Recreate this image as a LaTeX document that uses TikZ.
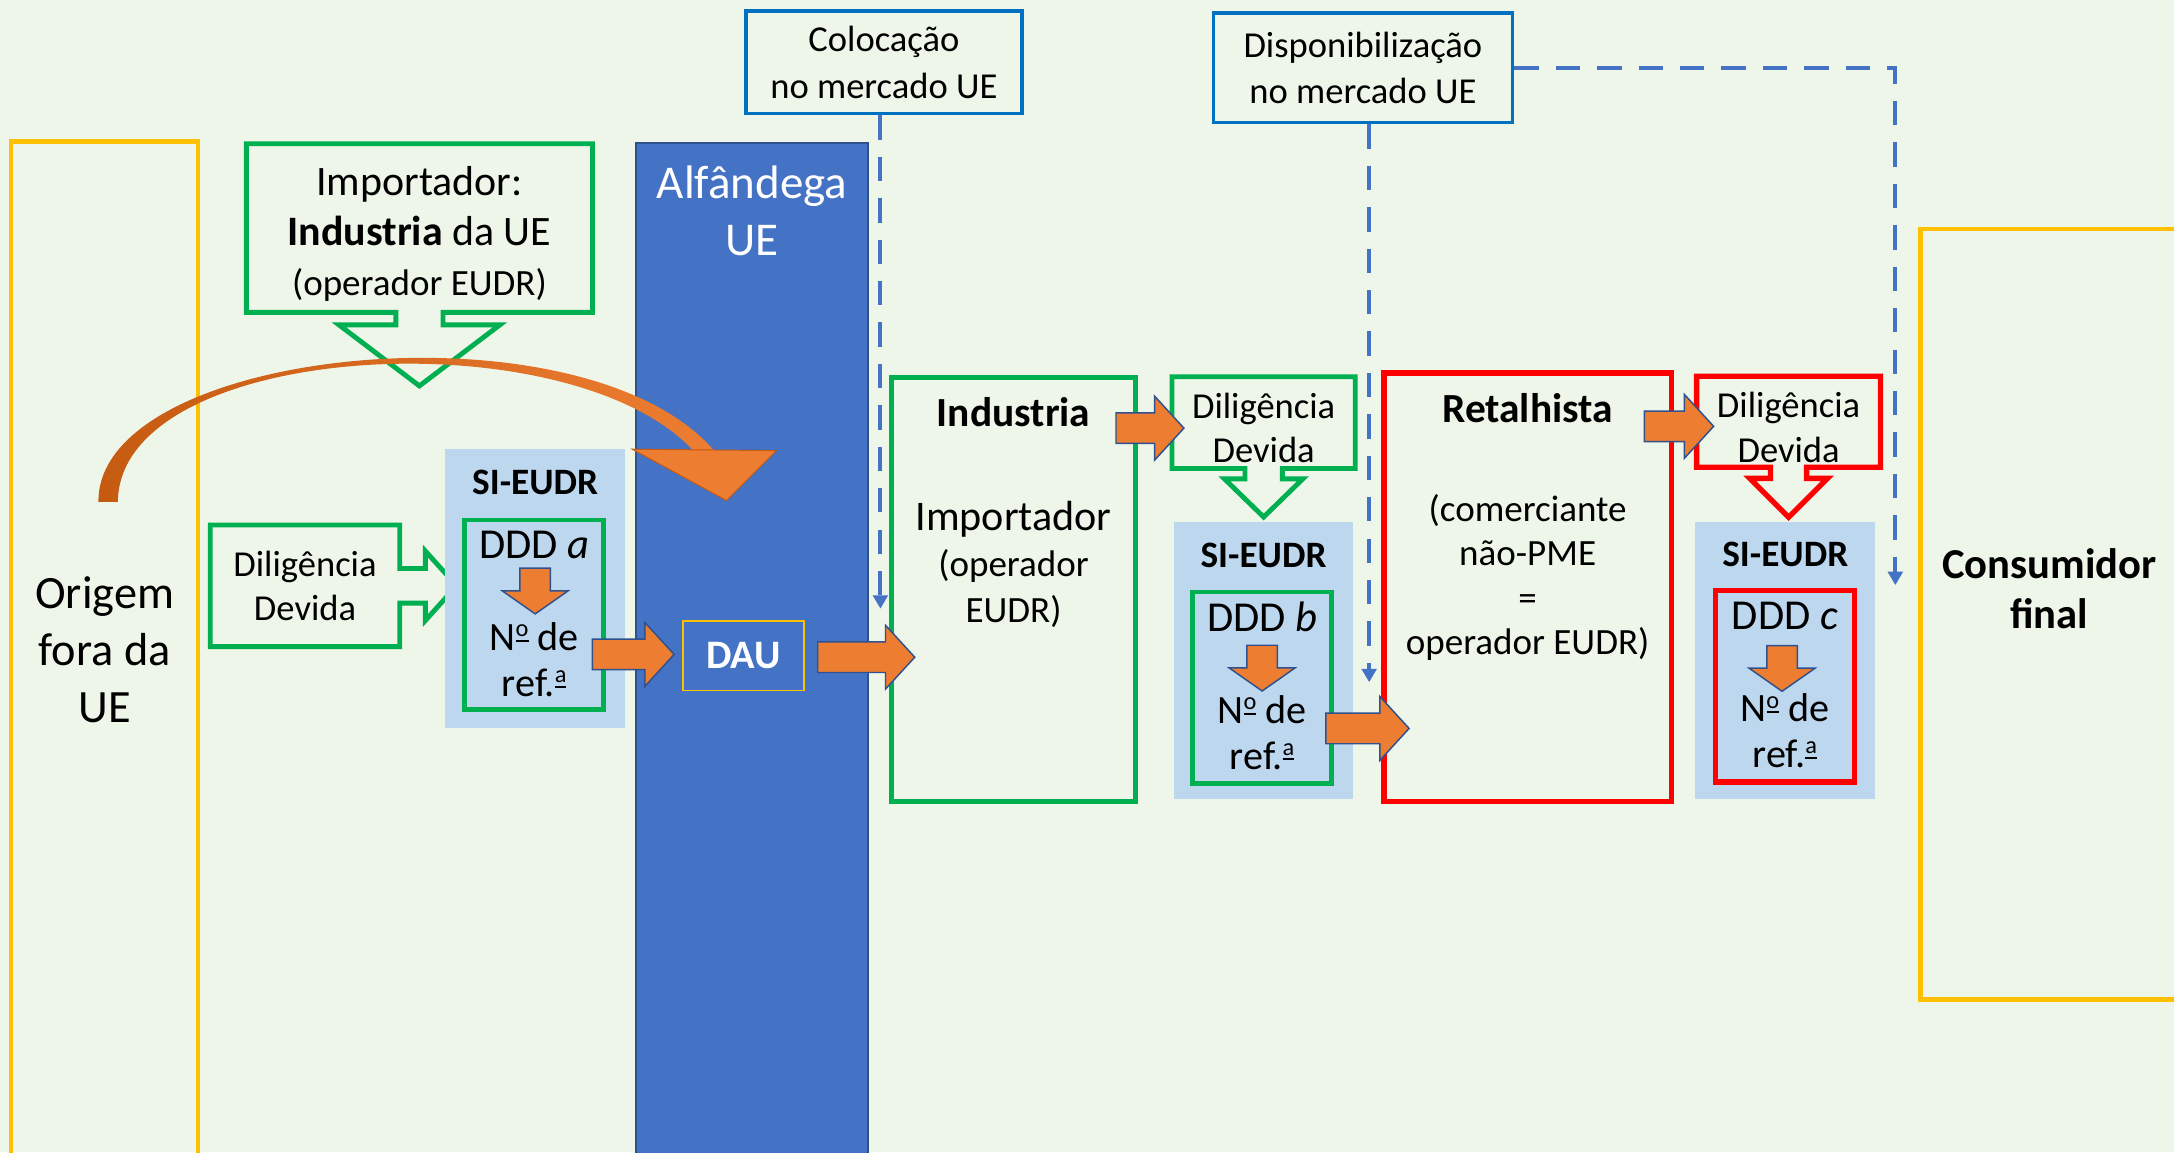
\documentclass[tikz,border=0pt]{standalone}
\usepackage{fontspec}
\setmainfont{Carlito}
\usepackage{xcolor}
\usepackage{tikz}
\usetikzlibrary{shapes.arrows, arrows.meta, positioning, calc}

\definecolor{bgc}{RGB}{238,245,233}
\definecolor{eugreen}{RGB}{0,176,80}
\definecolor{eured}{RGB}{255,0,0}
\definecolor{euyellow}{RGB}{255,192,0}
\definecolor{boxblue}{RGB}{0,112,192}
\definecolor{dashblue}{RGB}{68,114,196}
\definecolor{darkblue}{RGB}{47,82,143}
\definecolor{siblue}{RGB}{189,215,238}
\definecolor{arrorange}{RGB}{237,125,49}
\definecolor{darkorange}{RGB}{197,90,17}

% underlined ordinal indicators, as printed in the slide
\newcommand{\ordmasc}{\raisebox{5.6pt}{\fontsize{10}{10}\selectfont o}\llap{\rule[3.6pt]{5pt}{0.8pt}}}
\newcommand{\ordfem}{\raisebox{5.6pt}{\fontsize{10}{10}\selectfont a}\llap{\rule[3.6pt]{4.8pt}{0.8pt}}}

\begin{document}
\begin{tikzpicture}[x=0.02cm, y=-0.02cm, >={Triangle[width=6pt,length=5.5pt]}]
        % Define styles
        \tikzstyle{regionbox} = [rectangle, draw=euyellow, line width=1.8pt, inner sep=0pt, align=center, font=\fontsize{19}{23.3}\selectfont]
        \tikzstyle{mktbox} = [rectangle, draw=boxblue, line width=1.4pt, inner sep=0pt, align=center, font=\fontsize{15}{19}\selectfont]
        \tikzstyle{opbox} = [rectangle, draw=eugreen, line width=2pt, inner sep=0pt]
        \tikzstyle{retbox} = [rectangle, draw=eured, line width=2.2pt, inner sep=0pt]
        \tikzstyle{callout} = [rectangle, inner sep=0pt, align=center, font=\fontsize{15}{18.2}\selectfont]
        \tikzstyle{callgreen} = [draw=eugreen, line width=2pt, line join=miter]
        \tikzstyle{callred} = [draw=eured, line width=2.2pt, line join=miter]
        \tikzstyle{sipanel} = [rectangle, fill=siblue, inner sep=0pt]
        \tikzstyle{silabel} = [inner sep=0pt, font=\bfseries\fontsize{15.3}{18}\selectfont]
        \tikzstyle{dddlabel} = [inner sep=0pt, font=\fontsize{17.5}{20}\selectfont]
        \tikzstyle{reflabel} = [inner sep=0pt, align=center, font=\fontsize{16.5}{18.8}\selectfont]
        \tikzstyle{blockarrow} = [single arrow, fill=arrorange, draw=darkblue, line width=0.6pt, inner xsep=0pt, inner ysep=0.21cm, single arrow head extend=0.24cm, single arrow tip angle=95]
        \tikzstyle{smallarrow} = [blockarrow, rotate=-90, single arrow head extend=0.255cm, single arrow tip angle=110, minimum height=0.66cm, anchor=tail]
        \tikzstyle{dashconn} = [->, draw=dashblue, line width=1.6pt, dash pattern=on 10pt off 7pt]

        \useasboundingbox (0,0) rectangle (1568,831);
        \clip (0,0) rectangle (1568,831);
        \fill[bgc] (0,0) rectangle (1568,831);

        % Origin and customs
        \node (orig) [regionbox, minimum width=2.7cm, minimum height=14.66cm] at (75.5,468.5) {Origem\\fora da\\UE};
        \node (alf) [rectangle, fill=dashblue, draw=darkblue, line width=0.8pt, minimum width=3.34cm, minimum height=14.84cm] at (542.5,474) {};
        \node (alflbl) [inner sep=0pt, align=center, text=white, font=\fontsize{19.3}{23.3}\selectfont] at ($(alf.north)+(0,49.5)$) {Alfândega\\UE};

        % Importer callout
        \node (imp) [callout, minimum width=4.98cm, minimum height=2.42cm] at (302.5,164.5) {};
        \draw[callgreen] (imp.south west) -- ($(imp.south)+(-17,0)$) -- ++(0,9) -- ++(-41,0) -- ($(imp.south)+(0,53)$) -- ($(imp.south)+(58,9)$) -- ++(-41,0) -- ++(0,-9) -- (imp.south east) -- (imp.north east) -- (imp.north west) -- cycle;
        \node (imptxt) [callout, font=\fontsize{17.2}{20.5}\selectfont] at ($(imp.center)+(0,4.5)$) {Importador:\\\textbf{Industria} da UE\\{\fontsize{15.2}{20.5}\selectfont(operador EUDR)}};

        % Curved arrow into customs
        \coordinate (cstart) at (78,362);
        \coordinate (cend) at (524,361);
        \shade[left color=darkorange, right color=arrorange] ($(cstart)+(-7,0)$) .. controls (70,250) and (420,215) .. (515,325) -- (500,325) .. controls (410,228) and (86,246) .. ($(cstart)+(7,0)$) -- cycle;
        \filldraw[fill=arrorange, draw=darkorange, line width=0.4pt] (456,324) -- (560,325) -- (cend) -- cycle;

        % Market labels
        \node (col) [mktbox, minimum width=3.98cm, minimum height=1.48cm] at (637.5,45) {Colocação\\no mercado UE};
        \node (disp) [mktbox, minimum width=4.32cm, minimum height=1.58cm] at (983,49) {Disponibilização\\no mercado UE};

        % Due diligence a
        \node (dila) [callout, minimum width=2.72cm, minimum height=1.74cm] at (220,422.5) {Diligência\\Devida};
        \draw[callgreen] (dila.north west) -- (dila.north east) -- ($(dila.east)+(0,-12.5)$) -- ++(18.5,0) -- ++(0,-12.5) -- ($(dila.east)+(41,0)$) -- ($(dila.east)+(18.5,25)$) -- ++(0,-12.5) -- ++(-18.5,0) -- (dila.south east) -- (dila.south west) -- cycle;
        \node (sia) [sipanel, minimum width=2.6cm, minimum height=4.02cm] at (386,424.5) {};
        \node (sialbl) [silabel] at ($(sia.north)+(0,24)$) {SI-EUDR};
        \node (ddda) [opbox, minimum width=2.01cm, minimum height=2.74cm] at (385.3,443.5) {};
        \node (dddalbl) [dddlabel] at ($(ddda.north)+(0,20)$) {DDD \textit{a}};
        \node (dddaarr) [smallarrow] at ($(ddda.north)+(0.7,36)$) {};
        \node (dddaref) [reflabel] at ($(ddda.north)+(0,102.5)$) {N\ordmasc{} de\\ref.\ordfem};

        % DAU
        \node (dau) [rectangle, draw=euyellow, line width=0.7pt, minimum width=1.75cm, minimum height=1.0cm, text=white, font=\bfseries\fontsize{16.6}{20}\selectfont] at (536.3,473) {DAU};
        \node (a2dau) [blockarrow, anchor=tip, minimum height=1.18cm] at ($(dau.west)+(-5,-1)$) {};

        % Industria
        \node (ind) [opbox, minimum width=3.52cm, minimum height=6.12cm] at (731,425) {};
        \node (indlbl) [inner sep=0pt, font=\bfseries\fontsize{17}{20}\selectfont] at ($(ind.north)+(0,27)$) {Industria};
        \node (indtxt) [inner sep=0pt, align=center, font=\fontsize{15.2}{19}\selectfont] at ($(ind.center)+(0,-18)$) {{\fontsize{17.3}{19}\selectfont Importador}\\(operador\\EUDR)};
        \node (dau2ind) [blockarrow, anchor=tail, minimum height=1.4cm] at ($(dau.east)+(8.6,1)$) {};

        % Due diligence b
        \node (dilb) [callout, minimum width=2.63cm, minimum height=1.31cm] at (911.4,304.8) {};
        \draw[callgreen] (dilb.south west) -- ($(dilb.south)+(-13.5,0)$) -- ++(0,7.5) -- ++(-14.75,0) -- ($(dilb.south)+(0,35)$) -- ($(dilb.south)+(28.25,7.5)$) -- ++(-14.75,0) -- ++(0,-7.5) -- (dilb.south east) -- (dilb.north east) -- (dilb.north west) -- cycle;
        \node (dilbtxt) [callout] at ($(dilb.center)+(0,4)$) {Diligência\\Devida};
        \node (ind2dil) [blockarrow, anchor=tip, minimum height=0.98cm] at ($(dilb.west)+(9.3,4)$) {};
        \node (sib) [sipanel, minimum width=2.59cm, minimum height=3.99cm] at (911.3,476.3) {};
        \node (siblbl) [silabel] at ($(sib.north)+(0,24.5)$) {SI-EUDR};
        \node (dddb) [opbox, minimum width=2.01cm, minimum height=2.76cm] at (910.3,496) {};
        \node (dddblbl) [dddlabel] at ($(dddb.north)+(0,20)$) {DDD \textit{b}};
        \node (dddbarr) [smallarrow] at ($(dddb.north)+(0,39.6)$) {};
        \node (dddbref) [reflabel] at ($(dddb.north)+(0,103)$) {N\ordmasc{} de\\ref.\ordfem};

        % Retalhista
        \node (ret) [retbox, minimum width=4.15cm, minimum height=6.18cm] at (1101.8,423.5) {};
        \node (retlbl) [inner sep=0pt, font=\bfseries\fontsize{17}{20}\selectfont] at ($(ret.north)+(0,27)$) {Retalhista};
        \node (rettxt) [inner sep=0pt, align=center, font=\fontsize{15.2}{18.2}\selectfont] at ($(ret.center)+(0,-7)$) {(comerciante\\não-PME\\=\\operador EUDR)};
        \node (b2ret) [blockarrow, anchor=tail, minimum height=1.2cm] at ($(dddb.east)+(-6.5,29.4)$) {};

        % Due diligence c
        \node (dilc) [callout, minimum width=2.64cm, minimum height=1.3cm] at (1290,304.2) {};
        \draw[callred] (dilc.south west) -- ($(dilc.south)+(-13,0)$) -- ++(0,8) -- ++(-15,0) -- ($(dilc.south)+(0,36)$) -- ($(dilc.south)+(28,8)$) -- ++(-15,0) -- ++(0,-8) -- (dilc.south east) -- (dilc.north east) -- (dilc.north west) -- cycle;
        \node (dilctxt) [callout] at ($(dilc.center)+(0,4)$) {Diligência\\Devida};
        \node (ret2dil) [blockarrow, anchor=tip, minimum height=1.0cm] at ($(dilc.west)+(13,3.3)$) {};
        \node (sic) [sipanel, minimum width=2.6cm, minimum height=3.99cm] at (1287.6,476.3) {};
        \node (siclbl) [silabel] at ($(sic.north)+(0,23.5)$) {SI-EUDR};
        \node (dddc) [retbox, minimum width=2.01cm, minimum height=2.76cm] at (1287.3,495) {};
        \node (dddclbl) [dddlabel] at ($(dddc.north)+(0,20)$) {DDD \textit{c}};
        \node (dddcarr) [smallarrow] at ($(dddc.north)+(-2,41)$) {};
        \node (dddcref) [reflabel] at ($(dddc.north)+(0,103)$) {N\ordmasc{} de\\ref.\ordfem};

        % Consumidor final
        \node (cons) [regionbox, minimum width=4.1cm, minimum height=11.12cm] at (1487.5,442.9) {};
        \node (conslbl) [inner sep=0pt, align=center, font=\bfseries\fontsize{17.5}{20.5}\selectfont] at ($(cons.center)+(-9.5,-18)$) {Consumidor\\final};

        % Dashed connectors
        \coordinate (colend) at (635,439);
        \coordinate (dispend) at (987.5,492);
        \coordinate (consend) at (1367,422);
        \draw[dashconn] (col.south -| colend) -- (colend);
        \draw[dashconn] (disp.south -| dispend) -- (dispend);
        \draw[dashconn] (disp.east) -| (consend);
\end{tikzpicture}
\end{document}
